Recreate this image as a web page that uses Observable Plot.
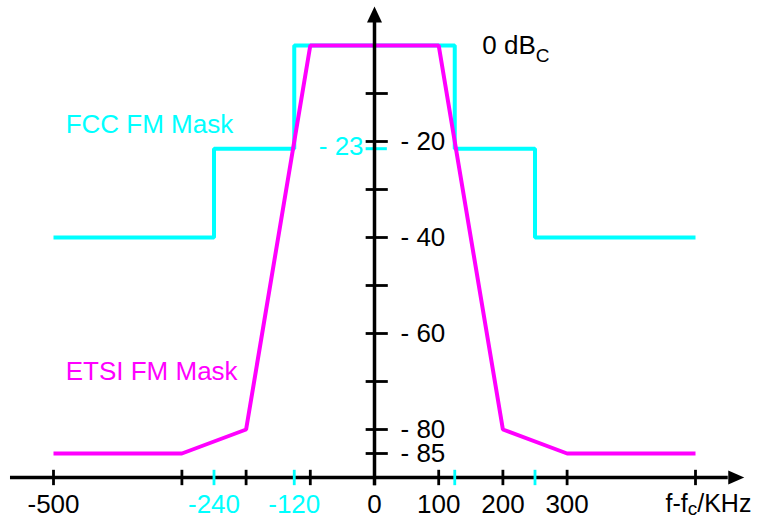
<!DOCTYPE html>
<html><head><meta charset="utf-8">
<script src="https://cdn.jsdelivr.net/npm/d3@7"></script>
<script src="https://cdn.jsdelivr.net/npm/@observablehq/plot@0.6"></script>
<style>body{margin:0;background:#fff}</style>
</head><body><div id="chart"></div>
<script>
// ---- data ----
const fccFreq  = [-500, -250, -250, -125, -125, 125, 125, 250, 250, 500];
const fccLevel = [-40, -40, -21.5, -21.5, 0, 0, -21.5, -21.5, -40, -40];
const etsiFreq  = [-500, -300, -200, -100, 100, 200, 300, 500];
const etsiLevel = [-85, -85, -80, 0, 0, -80, -85, -85];

const yTickValues  = [-10, -20, -30, -40, -50, -60, -70, -80, -85];
const yLabelValues = [-20, -40, -60, -80, -85];
const yLabelTexts  = ["- 20", "- 40", "- 60", "- 80", "- 85"];
const fccTickValues = [-21.5];
const fccTickTexts  = ["- 23"];

const xTickValues = [-500, -300, -200, -100, 0, 100, 200, 300, 500];
const xCyanTicks  = [-250, -125, 125, 250];
const xLabelValues = [-500, 0, 100, 200, 300];
const xLabelTexts  = ["-500", "0", "100", "200", "300"];
const xCyanLabelValues = [-250, -125];
const xCyanLabelTexts  = ["-240", "-120"];

const unitLabel = "f-fc/KHz";
const refLabel  = "0 dBC";
const seriesNames = ["FCC FM Mask", "ETSI FM Mask"];

const CYAN = "#00FFFF", MAGENTA = "#FF00FF";
const FONT = "Liberation Sans, Arial, Helvetica, sans-serif";
const FS = 26;

const fcc  = fccFreq.map((f, i) => ({f, db: fccLevel[i]}));
const etsi = etsiFreq.map((f, i) => ({f, db: etsiLevel[i]}));

const arrowUp = {draw(ctx) { ctx.moveTo(0, -16); ctx.lineTo(7.5, 0); ctx.lineTo(-7.5, 0); ctx.closePath(); }};
const arrowRight = {draw(ctx) { ctx.moveTo(16, 0); ctx.lineTo(0, 7); ctx.lineTo(0, -7); ctx.closePath(); }};

const xAxisFrom = -567, xAxisTo = 551, xAxisAt = -90;
const yAxisFrom = -91.7, yAxisTo = 4.8;

const textBase = {fontFamily: FONT, fontSize: FS};

const chart = Plot.plot({
  width: 759, height: 519,
  margin: 0,
  style: {fontFamily: FONT, background: "white"},
  x: {domain: [-500, 500], range: [53, 695], axis: null},
  y: {domain: [0, -90], range: [45, 477], axis: null},
  marks: [
    Plot.line(fcc, {x: "f", y: "db", stroke: CYAN, strokeWidth: 4, strokeLinejoin: "miter", strokeLinecap: "butt"}),
    Plot.line(etsi, {x: "f", y: "db", stroke: MAGENTA, strokeWidth: 4, strokeLinejoin: "miter", strokeLinecap: "butt"}),
    // cyan level tick on y axis
    Plot.ruleY(fccTickValues, {x1: -13, x2: 20, stroke: CYAN, strokeWidth: 3}),
    // axes
    Plot.ruleY([xAxisAt], {x1: xAxisFrom, x2: xAxisTo, stroke: "black", strokeWidth: 3.5}),
    Plot.ruleX([0], {y1: yAxisFrom, y2: yAxisTo, stroke: "black", strokeWidth: 3.5}),
    Plot.dot([0], {x: d => d, y: yAxisTo, symbol: arrowUp, fill: "black", stroke: "none"}),
    Plot.dot([xAxisTo], {x: d => d, y: xAxisAt, symbol: arrowRight, fill: "black", stroke: "none"}),
    // y ticks
    Plot.ruleY(yTickValues, {x1: -13, x2: 21.5, stroke: "black", strokeWidth: 2.8}),
    // x ticks
    Plot.ruleX(xTickValues, {y1: -88.5, y2: -91.7, stroke: "black", strokeWidth: 2.8}),
    Plot.ruleX(xCyanTicks, {y1: -88.5, y2: -91.7, stroke: CYAN, strokeWidth: 2.8}),
    // y labels
    Plot.text(yLabelValues, {x: 40.5, y: d => d, text: (d, i) => yLabelTexts[i], textAnchor: "start", fill: "black", ...textBase}),
    Plot.text(fccTickValues, {x: -17, y: d => d, dy: -2, text: (d, i) => fccTickTexts[i], textAnchor: "end", fill: CYAN, ...textBase}),
    // x labels
    Plot.text(xLabelValues, {x: d => d, y: xAxisAt, dy: 27, text: (d, i) => xLabelTexts[i], fill: "black", ...textBase}),
    Plot.text(xCyanLabelValues, {x: d => d, y: xAxisAt, dy: 27, text: (d, i) => xCyanLabelTexts[i], fill: CYAN, ...textBase}),
    Plot.text([unitLabel], {x: 500, y: xAxisAt, dy: 26, dx: -30, textAnchor: "start", fill: "black", ...textBase, fontSize: 25}),
    Plot.text([refLabel], {x: 168, y: 0, textAnchor: "start", fill: "black", ...textBase}),
    // series names
    Plot.text([seriesNames[0]], {x: -481, y: -16.5, textAnchor: "start", fill: CYAN, ...textBase}),
    Plot.text([seriesNames[1]], {x: -481, y: -68, textAnchor: "start", fill: MAGENTA, ...textBase})
  ]
});

// subscripts
function withSub(t, before, sub, after, shift) {
  t.textContent = "";
  const ns = "http://www.w3.org/2000/svg";
  const a = document.createElementNS(ns, "tspan"); a.textContent = before; t.appendChild(a);
  const b = document.createElementNS(ns, "tspan"); b.textContent = sub;
  b.setAttribute("font-size", "19"); b.setAttribute("dy", shift); t.appendChild(b);
  if (after) {
    const c = document.createElementNS(ns, "tspan"); c.textContent = after;
    c.setAttribute("dy", -shift); t.appendChild(c);
  }
}
chart.querySelectorAll("text").forEach(t => {
  if (t.textContent === refLabel) withSub(t, "0 dB", "C", "", 8);
  else if (t.textContent === unitLabel) withSub(t, "f-f", "c", "/KHz", 3);
});

document.getElementById("chart").appendChild(chart);
</script>
</body></html>
